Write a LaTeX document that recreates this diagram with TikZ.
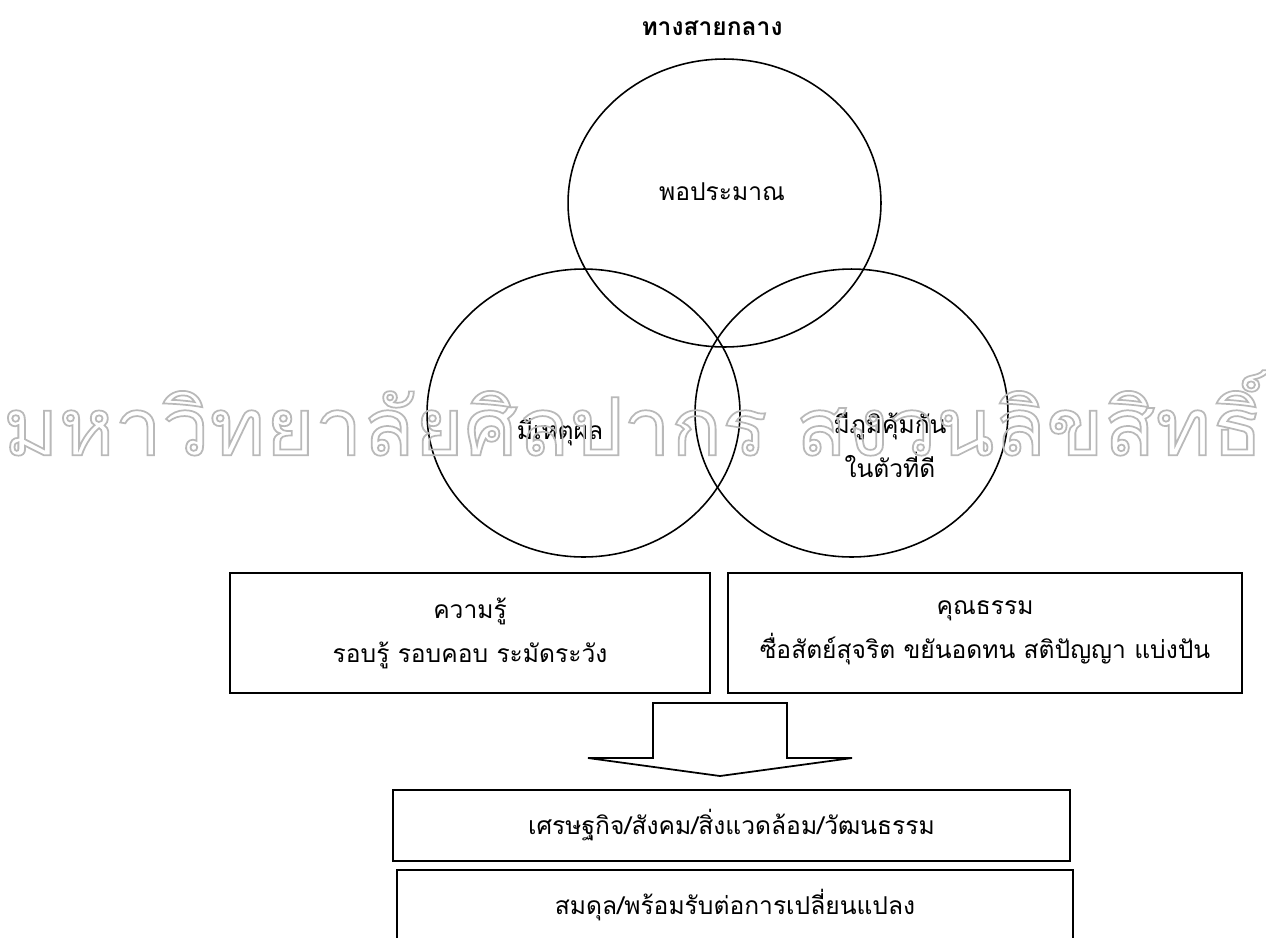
\documentclass[tikz,border=0pt]{standalone}
\usepackage{fontspec}
\newfontfamily\thaifont[Script=Thai]{Loma}
\usepackage{tikz}
\usetikzlibrary{shapes,positioning}
\tikzset{ring/.style={draw, ellipse, line width=0.9pt, minimum width=6.26cm,
    minimum height=5.76cm, inner sep=0pt}}
\tikzset{panel/.style={draw, line width=1.1pt, inner sep=0pt, align=center}}

\begin{document}
\begin{tikzpicture}[x=0.02cm, y=-0.02cm, font=\thaifont\fontsize{14}{25}\selectfont]
                \useasboundingbox (0,0) rectangle (1266,937);
                \clip (0,0) rectangle (1266,937);

                % three rings
                \node [ring] (top) at (724.5,203) {};
                \node [ring] (left) at (583.5,413) {};
                \node [ring] (right) at (851.5,413) {};

                \node [font=\thaifont\bfseries\fontsize{14}{18}\selectfont] (title) at (712,28) {ทางสายกลาง};
                \node (pp) at (722,192) {พอประมาณ};
                \node (reason) at (560,432) {มีเหตุผล};
                \node [align=center] (immune) at (890,445) {มีภูมิคุ้มกัน\\ในตัวที่ดี};

                % the two conditions
                \node [panel, minimum width=9.6cm, minimum height=2.4cm] (know) at (470,633)
                    {ความรู้\\รอบรู้ รอบคอบ ระมัดระวัง};
                \node [panel, minimum width=10.28cm, minimum height=2.4cm] (virtue) at (985,633)
                    {คุณธรรม\\ซื่อสัตย์สุจริต ขยันอดทน สติปัญญา แบ่งปัน};

                % block arrow
                \draw [line width=1pt, line join=miter] (653,703) -- (787,703) -- (787,758) -- (852,758)
                    -- (720,776) -- (588,758) -- (653,758) -- cycle;

                \node [panel, minimum width=13.54cm, minimum height=1.42cm] (world) at (731.5,825.5)
                    {เศรษฐกิจ/สังคม/สิ่งแวดล้อม/วัฒนธรรม};
                \node [panel, minimum width=13.52cm, minimum height=1.42cm] (balance) at (735,905.5)
                    {สมดุล/พร้อมรับต่อการเปลี่ยนแปลง};

                % watermark
                \node [text=gray!55, inner sep=0pt] (mark) at (633,413)
                    {\special{pdf:literal direct 1 Tr 0.3 w}\resizebox{25.2cm}{1.7cm}{มหาวิทยาลัยศิลปากร สงวนลิขสิทธิ์}\special{pdf:literal direct 0 Tr}};
\end{tikzpicture}
\end{document}
